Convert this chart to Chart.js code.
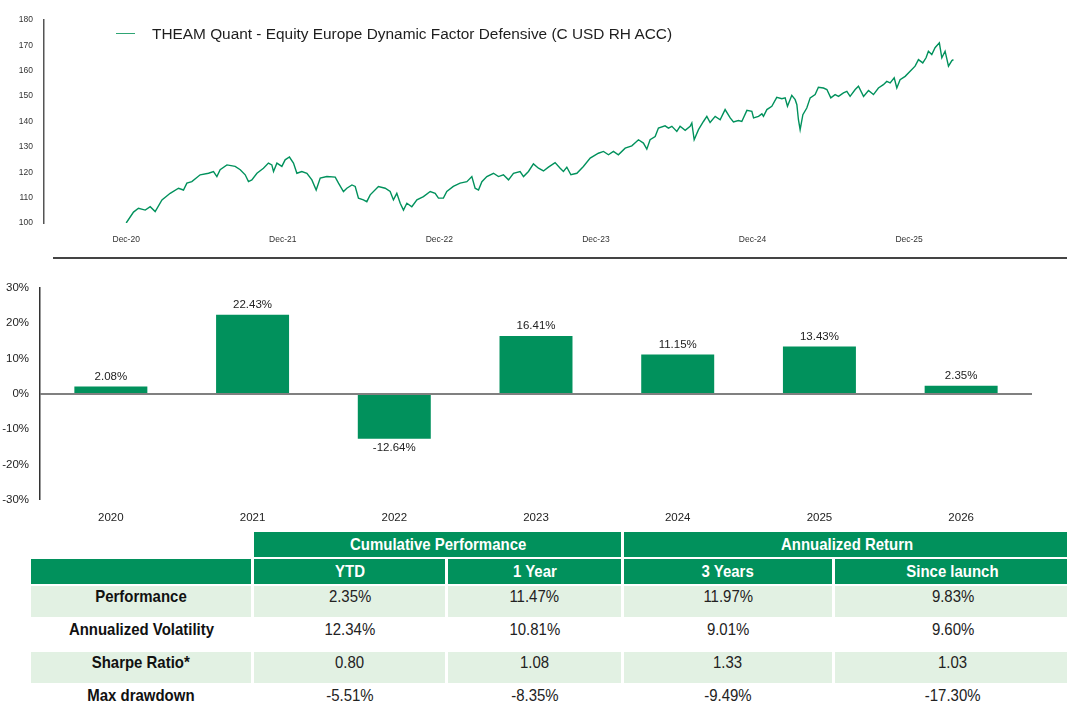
<!DOCTYPE html>
<html>
<head>
<meta charset="utf-8">
<script src="https://cdn.jsdelivr.net/npm/chart.js@4.4.1/dist/chart.umd.min.js"></script>
<style>
  html, body { margin: 0; padding: 0; background: #fff; }
  body { width: 1067px; height: 703px; position: relative; overflow: hidden; font-family: "Liberation Sans", Arial, sans-serif; }
  #navBox { position: absolute; left: 0; top: 0; width: 1067px; height: 252px; }
  #barBox { position: absolute; left: 0; top: 270px; width: 1067px; height: 260px; }
  #legend { position: absolute; left: 116px; top: 25px; font-size: 15.4px; color: #1e1e1e; white-space: nowrap; }
  #legend span.swatch { display: inline-block; width: 19px; height: 0; border-top: 1px solid #2fa574; vertical-align: middle; margin-right: 17px; position: relative; top: -1px; }
  #sep { position: absolute; left: 53px; top: 257px; width: 1014px; height: 0; border-top: 2px solid #444; }
  #perf { position: absolute; left: 28px; top: 530px; border-collapse: separate; border-spacing: 3px 2px; table-layout: fixed; width: 1046px;
          font-family: "Liberation Sans Narrow", "Arial Narrow", "Liberation Sans", sans-serif; font-size: 17px; }
  #perf span { display: inline-block; transform: scaleX(0.88); white-space: nowrap; }
  #perf th { background: #01915c; color: #fff; font-weight: bold; height: 25px; padding: 0; text-align: center; vertical-align: middle; }
  #perf th.blank { background: transparent; }
  #perf td { height: 30px; padding: 1px 0 0 0; text-align: center; vertical-align: top; line-height: 20px; color: #222; }
  #perf td.lab { font-weight: bold; color: #111; }
  #perf tr.shade td { background: #e2f1e3; }
</style>
</head>
<body>
<div id="navBox"><canvas id="navChart" width="1067" height="252"></canvas></div>
<div id="legend"><span class="swatch"></span>THEAM Quant - Equity Europe Dynamic Factor Defensive (C USD RH ACC)</div>
<div id="sep"></div>
<div id="barBox"><canvas id="barChart" width="1067" height="260"></canvas></div>
<table id="perf"></table>

<script>
// ---- line chart: NAV, x = months after Dec-20
const navMonth = [0.00, 0.56, 0.94, 1.46, 1.84, 2.22, 2.74, 3.37, 4.01, 4.39, 4.65, 5.03, 5.67, 6.31, 6.69, 6.95, 7.20, 7.72, 8.35, 8.74,
  9.12, 9.37, 9.63, 10.02, 10.52, 10.90, 11.16, 11.29, 11.55, 11.93, 12.18, 12.51, 12.82, 13.08, 13.46, 13.85, 14.23, 14.56, 14.87, 15.38,
  16.02, 16.27, 16.65, 16.91, 17.30, 17.55, 17.80, 18.18, 18.44, 18.70, 19.33, 19.85, 20.23, 20.48, 20.74, 21.00, 21.25, 21.51, 21.89, 22.28,
  22.78, 23.30, 23.68, 23.93, 24.31, 24.57, 25.07, 25.59, 26.11, 26.49, 26.74, 27.00, 27.26, 27.64, 28.15, 28.53, 28.91, 29.30, 29.68, 30.19,
  30.45, 30.83, 31.21, 31.60, 31.98, 32.36, 32.87, 33.26, 33.51, 33.77, 34.08, 34.54, 35.04, 35.56, 36.19, 36.58, 36.96, 37.34, 37.72, 38.24,
  38.75, 39.26, 39.64, 39.90, 40.15, 40.54, 40.79, 41.30, 41.56, 41.82, 42.20, 42.45, 42.84, 43.22, 43.35, 43.53, 43.86, 44.24, 44.50, 44.75,
  45.14, 45.52, 45.90, 46.29, 46.54, 46.92, 47.18, 47.57, 47.95, 48.08, 48.46, 48.72, 48.84, 49.10, 49.48, 49.86, 50.25, 50.50, 50.68, 51.01,
  51.27, 51.40, 51.52, 51.65, 51.86, 52.16, 52.42, 52.80, 53.05, 53.44, 53.70, 54.00, 54.33, 54.59, 54.97, 55.23, 55.48, 55.87, 56.12, 56.51,
  56.89, 57.27, 57.65, 58.03, 58.29, 58.55, 58.86, 59.06, 59.31, 59.70, 60.08, 60.46, 60.72, 61.05, 61.30, 61.48, 61.74, 61.99, 62.32, 62.51,
  62.76, 63.02, 63.28, 63.40];
const navValue = [100.0, 104.3, 105.8, 105.1, 106.4, 104.5, 109.1, 111.7, 113.7, 113.0, 115.7, 116.3, 119.0, 119.6, 120.3, 118.3, 121.0, 122.9, 122.3, 121.0,
  119.0, 116.3, 117.0, 119.6, 121.6, 123.6, 122.9, 120.3, 123.6, 122.3, 124.9, 126.0, 123.6, 119.6, 120.3, 119.6, 117.0, 113.0, 117.7, 118.3,
  118.1, 115.7, 112.4, 113.7, 115.0, 114.4, 109.8, 109.1, 108.4, 111.1, 114.4, 113.7, 112.4, 109.1, 111.7, 107.8, 105.1, 107.8, 106.4, 109.1,
  110.4, 112.4, 111.7, 109.8, 109.8, 112.4, 114.4, 115.7, 116.3, 118.3, 113.7, 113.0, 116.3, 118.3, 119.6, 118.3, 119.0, 117.0, 119.6, 120.3,
  118.3, 120.3, 123.3, 121.6, 120.5, 122.0, 123.8, 121.6, 120.3, 122.0, 119.0, 119.6, 122.3, 125.6, 127.5, 128.2, 126.9, 128.2, 126.9, 129.5,
  130.4, 132.8, 131.5, 129.1, 132.8, 134.1, 137.4, 138.3, 137.4, 138.1, 136.1, 138.1, 136.5, 138.1, 139.4, 132.8, 136.8, 140.0, 142.0, 139.6,
  142.0, 140.7, 144.7, 141.4, 139.8, 140.4, 140.0, 144.4, 144.0, 141.4, 142.0, 143.0, 142.0, 144.7, 146.0, 149.5, 149.0, 149.3, 146.0, 150.3,
  148.6, 146.6, 140.7, 136.8, 142.7, 145.3, 149.3, 150.6, 153.5, 153.2, 152.6, 149.3, 150.6, 149.9, 151.3, 151.9, 149.9, 152.6, 153.9, 149.9,
  152.2, 150.6, 153.2, 154.5, 155.8, 155.2, 157.2, 153.2, 156.5, 157.8, 159.8, 161.8, 164.4, 163.1, 165.1, 167.7, 166.4, 169.1, 171.0, 165.1,
  167.7, 161.8, 164.0, 164.4];
const navTickMonths = [0, 12, 24, 36, 48, 60];
const navTickLabels = ['Dec-20', 'Dec-21', 'Dec-22', 'Dec-23', 'Dec-24', 'Dec-25'];
const seriesName = 'THEAM Quant - Equity Europe Dynamic Factor Defensive (C USD RH ACC)';

// ---- bar chart: calendar year returns (%)
const years = ['2020', '2021', '2022', '2023', '2024', '2025', '2026'];
const yearReturns = [2.08, 22.43, -12.64, 16.41, 11.15, 13.43, 2.35];

// ---- table
const groupHeads = ['Cumulative Performance', 'Annualized Return'];
const periodHeads = ['YTD', '1 Year', '3 Years', 'Since launch'];
const rowLabels = ['Performance', 'Annualized Volatility', 'Sharpe Ratio*', 'Max drawdown'];
const rowValues = [
  ['2.35%', '11.47%', '11.97%', '9.83%'],
  ['12.34%', '10.81%', '9.01%', '9.60%'],
  ['0.80', '1.08', '1.33', '1.03'],
  ['-5.51%', '-8.35%', '-9.49%', '-17.30%']
];

const GREEN = '#01915c';
Chart.defaults.font.family = '"Liberation Sans", Arial, sans-serif';
Chart.defaults.color = '#333';

new Chart(document.getElementById('navChart'), {
  type: 'line',
  data: {
    datasets: [{
      label: seriesName,
      data: navMonth.map((m, i) => ({ x: m, y: navValue[i] })),
      borderColor: GREEN,
      borderWidth: 1.4,
      pointRadius: 0,
      tension: 0
    }]
  },
  options: {
    responsive: false,
    animation: false,
    layout: { padding: { top: 20, right: 17, bottom: 0, left: 0 } },
    plugins: { legend: { display: false }, tooltip: { enabled: false } },
    scales: {
      x: {
        type: 'linear',
        min: -6.3,
        max: 70.8,
        grid: { display: false, drawTicks: false },
        border: { display: false },
        afterBuildTicks: (s) => { s.ticks = navTickMonths.map(v => ({ value: v })); },
        afterFit: (s) => { s.height = 29; },
        ticks: {
          padding: 12,
          autoSkip: false,
          maxRotation: 0,
          font: { size: 8.5 },
          color: '#333',
          callback: (v) => navTickLabels[navTickMonths.indexOf(v)]
        }
      },
      y: {
        min: 100,
        max: 180,
        grid: { display: false, drawTicks: false },
        border: { display: true, color: '#555', width: 1.5 },
        afterFit: (s) => { s.width = 44; },
        ticks: { stepSize: 10, padding: 11, font: { size: 8.5 }, color: '#333' }
      }
    }
  }
});

const barLabels = {
  id: 'barLabels',
  afterDatasetsDraw(chart) {
    const ctx = chart.ctx;
    const meta = chart.getDatasetMeta(0);
    ctx.save();
    ctx.font = '11.5px "Liberation Sans", Arial, sans-serif';
    ctx.fillStyle = '#222';
    ctx.textAlign = 'center';
    meta.data.forEach((el, i) => {
      const v = yearReturns[i];
      if (v >= 0) {
        ctx.textBaseline = 'bottom';
        ctx.fillText(v.toFixed(2) + '%', el.x, el.y - 4);
      } else {
        ctx.textBaseline = 'top';
        ctx.fillText(v.toFixed(2) + '%', el.x, el.y + 3);
      }
    });
    ctx.restore();
  }
};

new Chart(document.getElementById('barChart'), {
  type: 'bar',
  data: {
    labels: years,
    datasets: [{
      data: yearReturns,
      backgroundColor: GREEN,
      categoryPercentage: 1,
      barPercentage: 0.515
    }]
  },
  options: {
    responsive: false,
    animation: false,
    layout: { padding: { top: 15, right: 35, bottom: 0, left: 0 } },
    plugins: { legend: { display: false }, tooltip: { enabled: false } },
    scales: {
      x: {
        grid: { display: false, drawTicks: false },
        border: { display: false },
        afterFit: (s) => { s.height = 30; },
        ticks: { padding: 11, font: { size: 11.5 }, color: '#222', maxRotation: 0 }
      },
      y: {
        min: -30,
        max: 30,
        grid: {
          drawTicks: false,
          color: (c) => (c.tick && c.tick.value === 0 ? '#808080' : 'rgba(0,0,0,0)'),
          lineWidth: (c) => (c.tick && c.tick.value === 0 ? 2 : 0)
        },
        border: { display: true, color: '#333', width: 1.5 },
        afterFit: (s) => { s.width = 40; },
        ticks: { stepSize: 10, padding: 11, font: { size: 11.5 }, color: '#222', callback: (v) => v + '%' }
      }
    }
  },
  plugins: [barLabels]
});

// table
const table = document.getElementById('perf');
const widths = [220, 190, 173, 207, 236];
const wrap = (t) => `<span>${t}</span>`;
let html = '<colgroup>' + widths.map(w => `<col style="width:${w}px">`).join('') + '</colgroup>';
html += '<tr><th class="blank"></th>' + groupHeads.map(h => `<th colspan="2">${wrap(h)}</th>`).join('') + '</tr>';
html += '<tr><th></th>' + periodHeads.map(h => `<th>${wrap(h)}</th>`).join('') + '</tr>';
rowLabels.forEach((lab, i) => {
  html += `<tr class="${i % 2 === 0 ? 'shade' : ''}"><td class="lab">${wrap(lab)}</td>` +
    rowValues[i].map(v => `<td>${wrap(v)}</td>`).join('') + '</tr>';
});
table.innerHTML = html;
</script>
</body>
</html>
